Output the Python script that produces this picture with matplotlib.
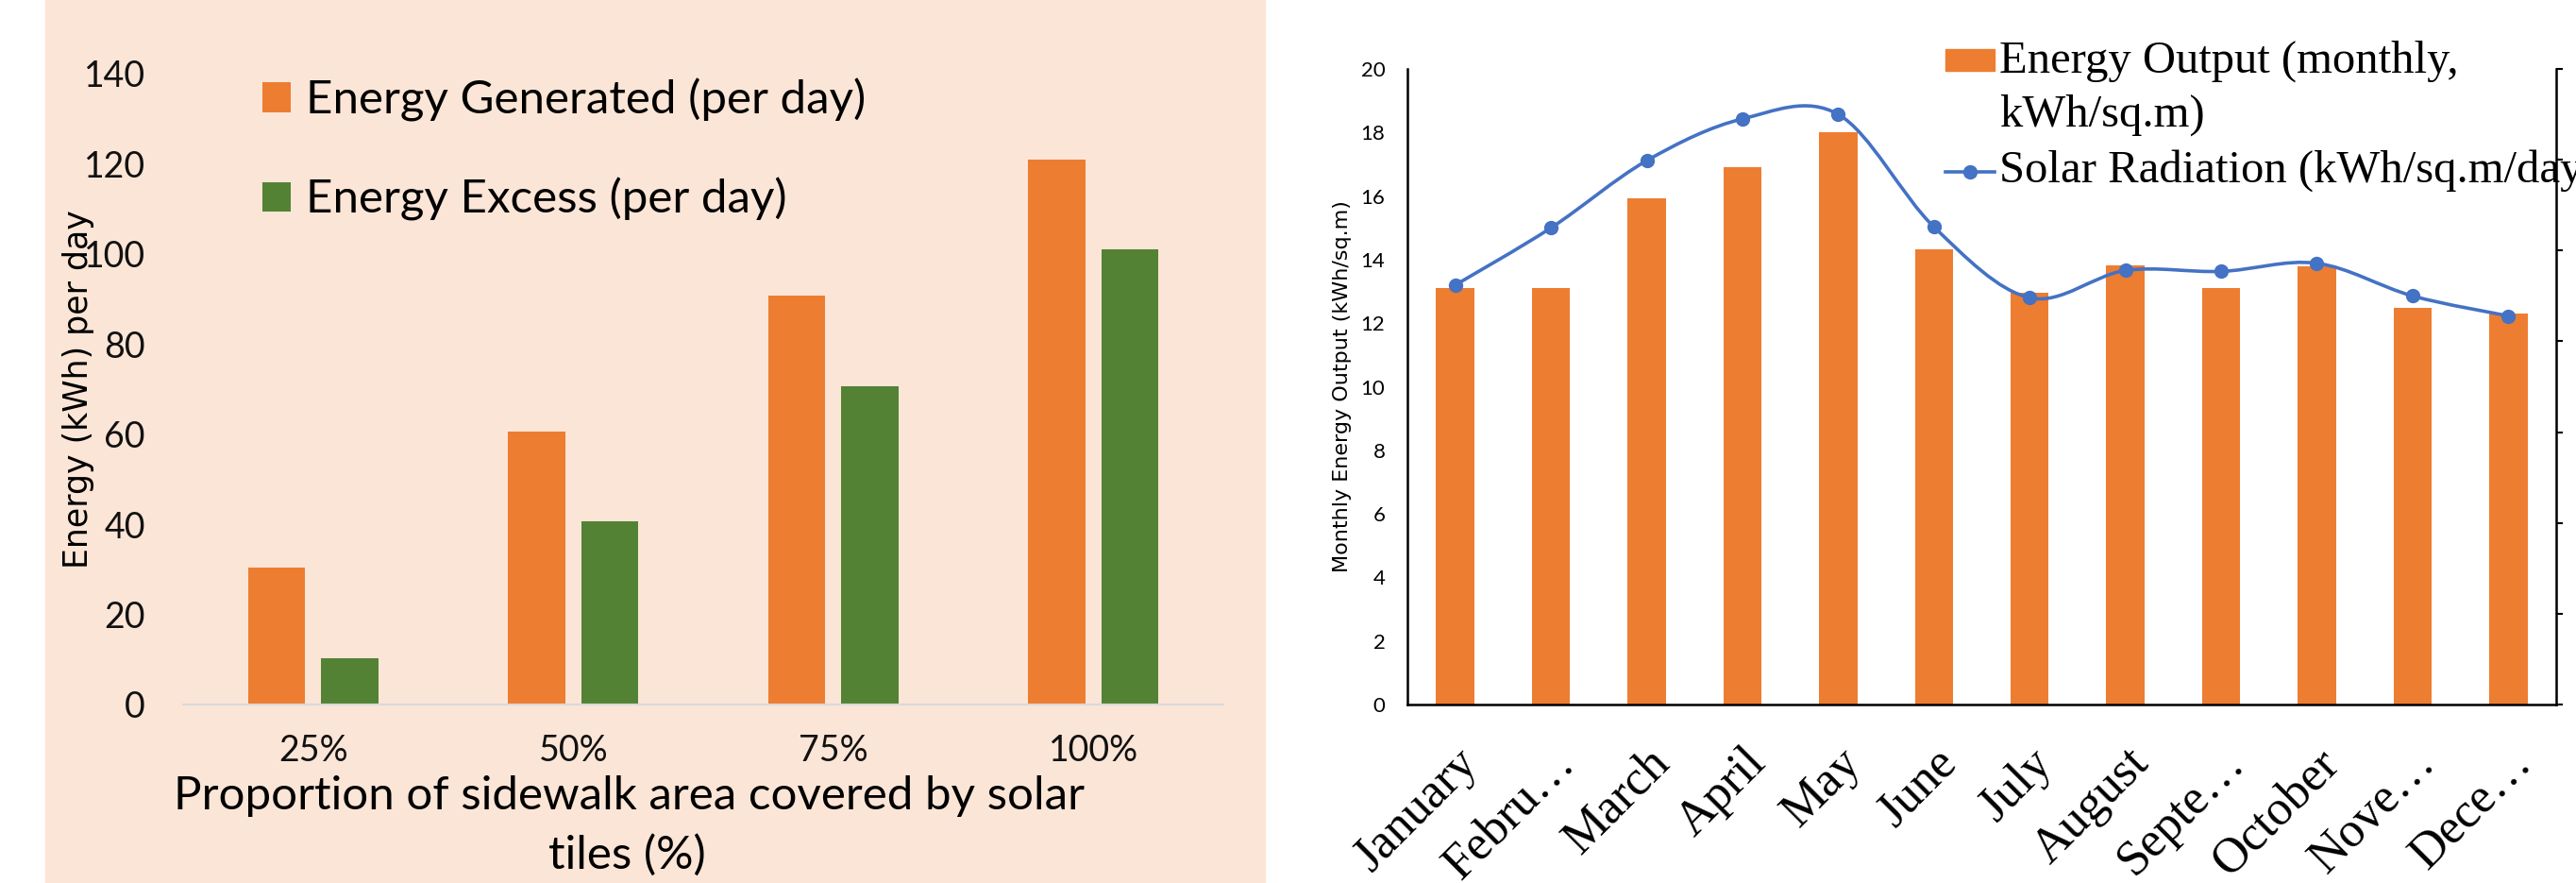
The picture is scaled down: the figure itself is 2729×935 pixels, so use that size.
import numpy as np
import matplotlib
matplotlib.use("Agg")
import matplotlib.pyplot as plt
from matplotlib.patches import Rectangle, PathPatch
from matplotlib.lines import Line2D
from matplotlib.path import Path
from matplotlib.transforms import ScaledTranslation

# left chart: daily energy vs. sidewalk coverage
coverage = ["25%", "50%", "75%", "100%"]
generated = [30.3, 60.5, 90.8, 121.0]
excess = [10.2, 40.6, 70.7, 101.1]

# right chart: monthly output and solar radiation
months = ["January", "Febru\u2026", "March", "April", "May", "June", "July",
          "August", "Septe\u2026", "October", "Nove\u2026", "Dece\u2026"]
energy_output = [13.12, 13.12, 15.92, 16.91, 18.02, 14.32, 12.96, 13.81,
                 13.10, 13.78, 12.48, 12.31]
radiation = [4.62, 5.25, 5.99, 6.45, 6.50, 5.26, 4.48, 4.78, 4.77, 4.86,
             4.50, 4.28]

ORANGE = "#ED7D31"
GREEN = "#548235"
BLUE = "#4472C4"
PEACH = "#FBE5D6"

sans = ["Lato", "DejaVu Sans"]
serif = ["Liberation Serif", "DejaVu Serif"]

W, H = 2729, 935
fig = plt.figure(figsize=(W / 100, H / 100), dpi=100)


def fx(px):
    return px / W


def fy(py):
    return 1 - py / H


fig.patches.append(Rectangle((fx(48), 0), fx(1340) - fx(48), 1,
                             transform=fig.transFigure, color=PEACH, zorder=-1))

# ---- left panel ----
ax1 = fig.add_axes([fx(194), fy(746), fx(1296) - fx(194), fy(78) - fy(746)])
ax1.set_facecolor("none")
x = np.arange(len(coverage))
ax1.bar(x - 0.14, generated, 0.22, color=ORANGE, label="Energy Generated (per day)")
ax1.bar(x + 0.14, excess, 0.22, color=GREEN, label="Energy Excess (per day)")
ax1.set_xlim(-0.5, 3.5)
ax1.set_ylim(0, 140)
ax1.set_yticks(range(0, 141, 20))
ax1.set_xticks(x)
ax1.set_xticklabels(coverage)
for s in ["left", "top", "right"]:
    ax1.spines[s].set_visible(False)
ax1.spines["bottom"].set_color("#D9D9D9")
ax1.spines["bottom"].set_linewidth(1.5)
ax1.tick_params(length=0, labelsize=27, colors="#111111")
ax1.tick_params(axis="y", pad=29)
ax1.tick_params(axis="x", pad=22)
for t in ax1.get_xticklabels() + ax1.get_yticklabels():
    t.set_family(sans)
ax1.set_ylabel("Energy (kWh) per day", fontsize=25, family="DejaVu Sans", va="center")
ax1.yaxis.set_label_coords(-0.1007, 0.5)
fig.text(fx(667), fy(857), "Proportion of sidewalk area covered by solar",
         ha="center", va="baseline", fontsize=35.5, family=sans)
fig.text(fx(664), fy(920), "tiles (%)",
         ha="center", va="baseline", fontsize=35.5, family=sans)
ax1.legend(loc="upper left", bbox_to_anchor=(0.076, 0.993), frameon=False,
           prop={"family": sans, "size": 35.5}, borderpad=0, borderaxespad=0,
           handlelength=0.61, handleheight=0.61, handletextpad=0.33,
           labelspacing=1.2)

# ---- right panel ----
ax2 = fig.add_axes([fx(1491), fy(746), fx(2708) - fx(1491), fy(73) - fy(746)])
m = np.arange(len(months))
ax2.bar(m, energy_output, 0.4, color=ORANGE)
ax2.set_xlim(-0.5, 11.5)
ax2.set_ylim(0, 20)
ax2.set_yticks(range(0, 21, 2))
ax2.set_xticks(m)
ax2.set_xticklabels(months, rotation=45, ha="right", rotation_mode="anchor",
                    fontsize=37.5, family=serif)
shift = ScaledTranslation(-20 / 100, 0, fig.dpi_scale_trans)
for t in ax2.get_xticklabels():
    t.set_transform(t.get_transform() + shift)
ax2.spines["top"].set_visible(False)
ax2.spines["right"].set_visible(False)
for s in ["left", "bottom"]:
    ax2.spines[s].set_linewidth(1.8)
ax2.tick_params(axis="y", length=0, labelsize=16, pad=17)
ax2.tick_params(axis="x", length=0, pad=27)
for t in ax2.get_yticklabels():
    t.set_family(sans)
ax2.set_ylabel("Monthly Energy Output (kWh/sq.m)", fontsize=16, family="DejaVu Sans",
               va="center")
ax2.yaxis.set_label_coords(-0.0567, 0.5)

# secondary axis for radiation, tick marks only
ax3 = ax2.twinx()
ax3.set_ylim(0, 7)
ax3.set_yticks(range(8))
ax3.set_yticklabels([])
ax3.tick_params(axis="y", direction="out", length=5, width=1.5)
for s in ["left", "top", "bottom"]:
    ax3.spines[s].set_visible(False)
ax3.spines["right"].set_linewidth(1.8)

# smoothed curve through the radiation points (Catmull-Rom style beziers)
pts = np.column_stack([m, radiation]).astype(float)
ext = np.vstack([pts[0], pts, pts[-1]])
verts = [pts[0]]
codes = [Path.MOVETO]
for i in range(len(pts) - 1):
    p0, p1, p2, p3 = ext[i], ext[i + 1], ext[i + 2], ext[i + 3]
    verts += [p1 + (p2 - p0) / 6, p2 - (p3 - p1) / 6, p2]
    codes += [Path.CURVE4] * 3
ax3.add_patch(PathPatch(Path(verts, codes), fill=False, edgecolor=BLUE, lw=2.6))
ax3.plot(m, radiation, "o", color=BLUE, ms=10)

# legend for the right chart, laid out in figure pixels
fig.patches.append(Rectangle((fx(2061), fy(75)), fx(2113) - fx(2061), fy(52) - fy(75),
                             transform=fig.transFigure, color=ORANGE))
fig.lines.append(Line2D([fx(2061), fx(2113)], [fy(182), fy(182)], color=BLUE, lw=2.6,
                        transform=fig.transFigure))
fig.lines.append(Line2D([fx(2087)], [fy(182)], marker="o", ms=10, color=BLUE,
                        transform=fig.transFigure))
for label, base in [("Energy Output (monthly,", 77), ("kWh/sq.m)", 134),
                    ("Solar Radiation (kWh/sq.m/day)", 193)]:
    fig.text(fx(2118), fy(base), label, ha="left", va="baseline",
             fontsize=35, family=serif)

fig.savefig("out.png", dpi=100)
